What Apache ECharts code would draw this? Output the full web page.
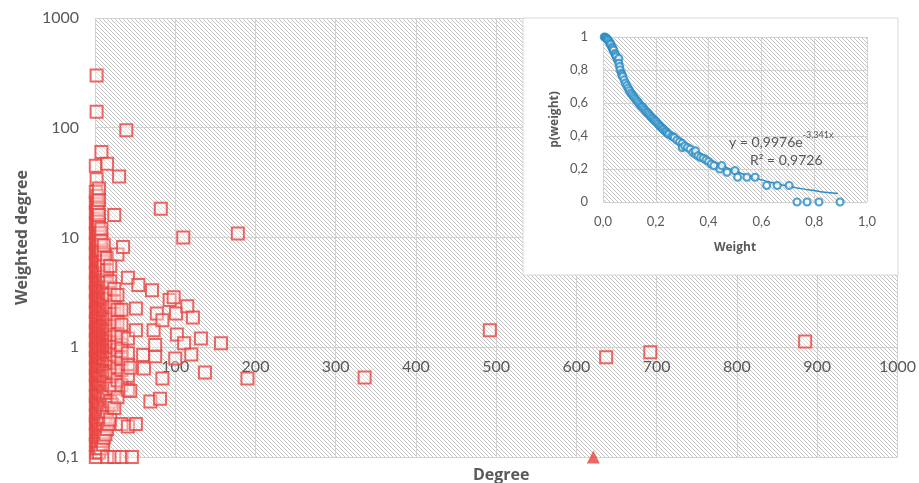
<!DOCTYPE html>
<html>
<head>
<meta charset="utf-8">
<script src="https://cdn.jsdelivr.net/npm/echarts@6/dist/echarts.min.js"></script>
<style>
  html, body { margin: 0; padding: 0; background: #fff; }
  #main { width: 919px; height: 483px; }
</style>
</head>
<body>
<div id="main"></div>
<script>
// main plot: [degree, weighted degree] per node
var nodes = [
  [1,0.1],[1,0.13],[1,0.16],[1,0.2],[1,0.24],[1,0.3],[1,0.36],[1,0.45],[1,0.55],[1,0.65],[1,0.8],[1,0.95],
  [1,1.15],[1,1.4],[1,1.7],[1,2.1],[1,2.6],[1,3.2],[1,3.9],[1,4.8],[1,5.9],[1,7.2],[1,8.8],[1,11],[1,13.5],
  [1,17],[1,21],[1,26],[1,45],[2,300],[2,140],[2,34],
  [2,0.11],[2,0.14],[2,0.18],[2,0.22],[2,0.27],[2,0.33],[2,0.4],[2,0.5],[2,0.6],[2,0.72],[2,0.86],[2,1],[2,1.2],
  [2,1.45],[2,1.8],[2,2.2],[2,2.7],[2,3.4],[2,4.2],[2,5.2],[2,6.4],[2,8],[2,10],[2,12.5],[2,16],[2,20],
  [3,0.12],[3,0.17],[3,0.22],[3,0.28],[3,0.35],[3,0.42],[3,0.52],[3,0.62],[3,0.75],[3,0.9],[3,1.05],[3,1.25],
  [3,1.5],[3,1.8],[3,2.3],[3,2.9],[3,3.5],[3,4.3],[3,5.3],[3,6.5],[3,8],[3,9.7],[3,12],[3,15],[3,19],[3,24],
  [4,0.13],[4,0.17],[4,0.21],[4,0.26],[4,0.32],[4,0.39],[4,0.47],[4,0.56],[4,0.67],[4,0.8],[4,0.95],[4,1.1],
  [4,1.3],[4,1.55],[4,1.9],[4,2.3],[4,2.8],[4,3.4],[4,4.1],[4,5],[4,6.2],[4,7.6],[4,9.3],[4,11.5],[4,14],[4,18],
  [5,0.11],[5,0.15],[5,0.19],[5,0.25],[5,0.32],[5,0.4],[5,0.48],[5,0.58],[5,0.7],[5,0.85],[5,1],[5,1.2],
  [5,1.45],[5,1.75],[5,2.1],[5,2.5],[5,3],[5,3.7],[5,4.5],[5,5.5],[5,6.8],[5,8.3],[5,10.5],[5,13],[5,16],[5,22],[5,28],
  [7,0.12],[7,0.16],[7,0.2],[7,0.25],[7,0.31],[7,0.38],[7,0.46],[7,0.55],[7,0.66],[7,0.78],[7,0.92],[7,1.08],
  [7,1.28],[7,1.52],[7,1.85],[7,2.25],[7,2.75],[7,3.3],[7,4],[7,4.9],[7,6],[7,7.4],[7,9],[7,11],
  [8,0.14],[8,0.18],[8,0.23],[8,0.3],[8,0.38],[8,0.47],[8,0.57],[8,0.69],[8,0.82],[8,0.98],[8,1.15],[8,1.35],
  [8,1.6],[8,2],[8,2.4],[8,2.9],[8,3.5],[8,4.2],[8,5.1],[8,6.2],[8,7.6],[8,9.4],[8,12],[8,60],
  [10,0.13],[10,0.17],[10,0.22],[10,0.29],[10,0.37],[10,0.46],[10,0.56],[10,0.67],[10,0.8],[10,0.95],[10,1.12],
  [10,1.32],[10,1.56],[10,1.85],[10,2.2],[10,2.65],[10,3.2],[10,3.9],[10,4.8],[10,6],
  [11,0.15],[11,0.2],[11,0.27],[11,0.35],[11,0.44],[11,0.55],[11,0.68],[11,0.8],[11,0.93],[11,1.08],[11,1.25],
  [11,1.45],[11,1.7],[11,2],[11,2.4],[11,2.9],[11,3.6],[11,4.5],[11,5.6],[11,7],[11,8.5],
  [13,0.16],[13,0.22],[13,0.3],[13,0.4],[13,0.5],[13,0.62],[13,0.75],[13,0.88],[13,1.02],[13,1.18],[13,1.36],
  [13,1.58],[13,1.85],[13,2.2],[13,2.7],[13,3.3],[13,4.1],
  [15,0.1],[15,0.18],[15,0.26],[15,0.36],[15,0.48],[15,0.62],[15,0.78],[15,0.92],[15,1.05],[15,1.2],[15,1.4],
  [15,1.65],[15,2],[15,2.5],[15,3.1],[15,3.9],[15,5],[15,6.5],[15,47],
  [17,0.2],[17,0.3],[17,0.42],[17,0.55],[17,0.7],[17,0.85],[17,1],[17,1.15],[17,1.3],[17,1.5],[17,1.8],[17,2.2],
  [17,2.8],[17,3.5],
  [19,0.22],[19,0.32],[19,0.45],[19,0.6],[19,0.75],[19,0.9],[19,1.02],[19,1.15],[19,1.32],[19,1.55],[19,1.9],
  [19,2.4],[19,3],[19,4],[19,5.5],
  [21,0.3],[21,0.45],[21,0.6],[21,0.78],[21,0.92],[21,1.05],[21,1.2],[21,1.45],[21,1.8],[21,2.3],
  [24,0.1],[24,0.28],[24,0.42],[24,0.58],[24,0.72],[24,0.86],[24,1],[24,1.12],[24,1.3],[24,1.6],[24,2],[24,2.6],[24,3.4],[24,16],
  [28,0.35],[28,0.5],[28,0.66],[28,0.82],[28,0.95],[28,1.1],[28,1.3],[28,1.7],[28,2.2],[28,3],[28,7],[30,36],
  [33,0.1],[33,0.2],[33,0.45],[33,0.62],[33,0.78],[33,0.92],[33,1.05],[33,1.25],[33,1.6],[33,2.2],[35,8.2],[39,95],
  [41,0.19],[41,0.41],[41,0.55],[41,0.7],[41,0.88],[41,1.2],[41,4.3],[44,0.4],[44,0.65],[46,0.1],
  [51,0.2],[51,1.43],[51,2.26],[54,3.7],[60,0.85],[61,0.64],[69,0.32],[71,3.3],[73,1.43],[75,0.83],[75,1.05],
  [77,2.03],[81,0.34],[82,18.3],[84,1.76],[84,0.52],[93,2.7],[98,2.85],[100,0.79],[101,2.03],[102,1.31],
  [110,10],[111,1.09],[115,2.36],[120,0.86],[122,1.87],[132,1.2],[137,0.59],[157,1.09],[178,10.9],[190,0.52],
  [336,0.53],[492,1.43],[637,0.81],[692,0.9],[885,1.13]
];
var marker = [[621, 0.1]];

var yTicks = [0.1, 1, 10, 100, 1000];
var yTickLabels = ['0,1', '1', '10', '100', '1000'];
var xTickLabels = ['0', '100', '200', '300', '400', '500', '600', '700', '800', '900', '1000'];

// inset: [weight, p(weight)]
var weights = [
  [0.005,1],[0.008,0.998],[0.01,0.995],[0.013,0.992],[0.015,0.99],[0.018,0.985],[0.02,0.98],[0.025,0.97],
  [0.028,0.96],[0.03,0.955],[0.035,0.94],[0.038,0.93],[0.04,0.92],[0.045,0.9],[0.048,0.89],[0.05,0.88],
  [0.055,0.86],[0.06,0.87],[0.06,0.84],[0.063,0.82],[0.065,0.8],[0.07,0.78],[0.072,0.77],[0.075,0.76],
  [0.08,0.74],[0.085,0.72],[0.09,0.705],[0.095,0.69],[0.1,0.675],[0.105,0.66],[0.11,0.65],[0.115,0.64],
  [0.12,0.63],[0.125,0.62],[0.13,0.61],[0.135,0.6],[0.14,0.59],[0.145,0.58],[0.15,0.575],[0.155,0.565],
  [0.16,0.555],[0.165,0.545],[0.17,0.54],[0.175,0.53],[0.18,0.52],[0.185,0.51],[0.19,0.505],[0.195,0.495],
  [0.2,0.49],[0.205,0.48],[0.21,0.47],[0.215,0.46],[0.22,0.455],[0.225,0.445],[0.23,0.44],[0.235,0.43],
  [0.24,0.425],[0.245,0.415],[0.25,0.41],[0.26,0.4],[0.265,0.395],[0.27,0.39],[0.28,0.375],[0.29,0.365],
  [0.3,0.355],[0.3,0.33],[0.31,0.34],[0.32,0.33],[0.33,0.32],[0.34,0.3],[0.35,0.29],[0.35,0.31],
  [0.36,0.28],[0.37,0.27],[0.38,0.265],[0.39,0.255],[0.4,0.245],[0.41,0.23],[0.42,0.22],[0.443,0.2],
  [0.45,0.22],[0.47,0.18],[0.5,0.19],[0.51,0.15],[0.545,0.15],[0.576,0.15],[0.62,0.1],[0.66,0.1],
  [0.705,0.1],[0.735,0],[0.773,0],[0.818,0],[0.898,0]
];
var trend = [
  [0,0.998],[0.05,0.84],[0.1,0.715],[0.15,0.6],[0.2,0.51],[0.25,0.43],[0.3,0.365],[0.35,0.31],
  [0.4,0.262],[0.45,0.222],[0.5,0.188],[0.55,0.159],[0.6,0.134],[0.65,0.114],[0.7,0.096],
  [0.75,0.081],[0.8,0.069],[0.85,0.058],[0.89,0.051]
];
var insetXLabels = ['0,0', '0,2', '0,4', '0,6', '0,8', '1,0'];
var insetYLabels = ['0', '0,2', '0,4', '0,6', '0,8', '1'];

var red = '#e8413f';
var blue = '#2b8cc6';
var grey = '#595959';

// diagonal hatch used for both plot areas
var hatchCanvas = document.createElement('canvas');
hatchCanvas.width = 4;
hatchCanvas.height = 4;
var hc = hatchCanvas.getContext('2d');
hc.fillStyle = '#fff';
hc.fillRect(0, 0, 4, 4);
hc.strokeStyle = '#c4c4c4';
hc.lineWidth = 1;
hc.beginPath();
hc.moveTo(-1, -1); hc.lineTo(5, 5);
hc.moveTo(-1, 3); hc.lineTo(1, 5);
hc.moveTo(3, -1); hc.lineTo(5, 1);
hc.stroke();
var hatch = { image: hatchCanvas, repeat: 'repeat' };

var chart = echarts.init(document.getElementById('main'));
var option = {
  animation: false,
  textStyle: { fontFamily: 'Lato' },
  grid: [
    { left: 95, top: 18, width: 804, height: 439, show: true, backgroundColor: hatch, borderWidth: 0 },
    { left: 523, top: 18, width: 375, height: 257, show: true, backgroundColor: '#fff', borderColor: '#d9d9d9', borderWidth: 1, z: 3 },
    { left: 603, top: 37, width: 264, height: 165, show: true, backgroundColor: hatch, borderWidth: 0, z: 4 }
  ],
  title: [
    {
      left: 468, top: 462,
      text: 'Degree',
      textStyle: { fontFamily: 'Open Sans', fontWeight: 'bold', fontSize: 16, color: grey }
    },
    {
      left: 724, top: 126, z: 7,
      text: '{a|y = 0,9976e}{b|-3,341x}',
      textStyle: {
        rich: {
          a: { fontSize: 14, fontWeight: 'normal', color: grey, fontFamily: 'Lato', lineHeight: 18, verticalAlign: 'bottom' },
          b: { fontSize: 9, fontWeight: 'normal', color: grey, fontFamily: 'Lato', lineHeight: 18, verticalAlign: 'top' }
        }
      }
    },
    {
      left: 745, top: 148, z: 7,
      text: 'R² = 0,9726',
      textStyle: { fontSize: 14, color: grey, fontWeight: 'normal', fontFamily: 'Lato' }
    }
  ],
  xAxis: [
    {
      type: 'value', gridIndex: 0, min: 0, max: 1000, interval: 100, position: 'bottom',
      axisLine: { show: false }, axisTick: { show: false },
      splitLine: { lineStyle: { color: '#d2d2d2' } },
      axisLabel: {
        margin: 17, color: grey, fontSize: 16,
        formatter: function (v) { return xTickLabels[Math.round(v / 100)]; }
      }
    },
    { type: 'value', gridIndex: 1, show: false },
    {
      type: 'value', gridIndex: 2, min: 0, max: 1, interval: 0.2, z: 5,
      axisLine: { show: false }, axisTick: { show: false },
      splitLine: { lineStyle: { color: '#d2d2d2' } },
      axisLabel: {
        margin: 13, color: grey, fontSize: 13,
        formatter: function (v) { return insetXLabels[Math.round(v * 5)]; }
      },
      name: 'Weight', nameLocation: 'middle', nameGap: 40,
      nameTextStyle: { fontFamily: 'Open Sans', fontWeight: 'bold', fontSize: 12, color: grey }
    }
  ],
  yAxis: [
    {
      type: 'log', logBase: 10, gridIndex: 0, min: 0.1, max: 1000,
      axisLine: { show: false }, axisTick: { show: false },
      splitLine: { lineStyle: { color: '#d2d2d2' } },
      axisLabel: {
        margin: 16, color: grey, fontSize: 16,
        formatter: function (v) { return yTickLabels[Math.round(Math.log10(v)) + 1]; }
      },
      name: 'Weighted degree', nameLocation: 'middle', nameGap: 65,
      nameTextStyle: { fontFamily: 'Open Sans', fontWeight: 'bold', fontSize: 16, color: grey }
    },
    { type: 'value', gridIndex: 1, show: false },
    {
      type: 'value', gridIndex: 2, min: 0, max: 1, interval: 0.2, z: 5,
      axisLine: { show: false }, axisTick: { show: false },
      splitLine: { lineStyle: { color: '#d2d2d2' } },
      axisLabel: {
        margin: 15, color: grey, fontSize: 13,
        formatter: function (v) { return insetYLabels[Math.round(v * 5)]; }
      },
      name: 'p(weight)', nameLocation: 'middle', nameGap: 42,
      nameTextStyle: { fontFamily: 'Open Sans', fontWeight: 'bold', fontSize: 12, color: grey }
    }
  ],
  series: [
    {
      type: 'scatter', xAxisIndex: 0, yAxisIndex: 0, data: nodes,
      symbol: 'rect', symbolSize: 12,
      itemStyle: { color: 'rgba(255,255,255,0.45)', borderColor: red, borderWidth: 2 }
    },
    {
      type: 'scatter', xAxisIndex: 0, yAxisIndex: 0, data: marker,
      symbol: 'triangle', symbolSize: 13,
      itemStyle: { color: red }
    },
    {
      type: 'line', xAxisIndex: 2, yAxisIndex: 2, data: trend, z: 6,
      smooth: true, showSymbol: false, lineStyle: { color: blue, width: 1.5 }
    },
    {
      type: 'scatter', xAxisIndex: 2, yAxisIndex: 2, data: weights, z: 6,
      symbol: 'circle', symbolSize: 7,
      itemStyle: { color: '#fff', borderColor: blue, borderWidth: 2.2 }
    }
  ]
};
chart.setOption(option);

// the degree labels sit on the weighted degree = 1 line
var y1 = chart.convertToPixel({ gridIndex: 0 }, [0, yTicks[1]])[1];
chart.setOption({ xAxis: [{ offset: y1 - (18 + 439) }] });
</script>
</body>
</html>
